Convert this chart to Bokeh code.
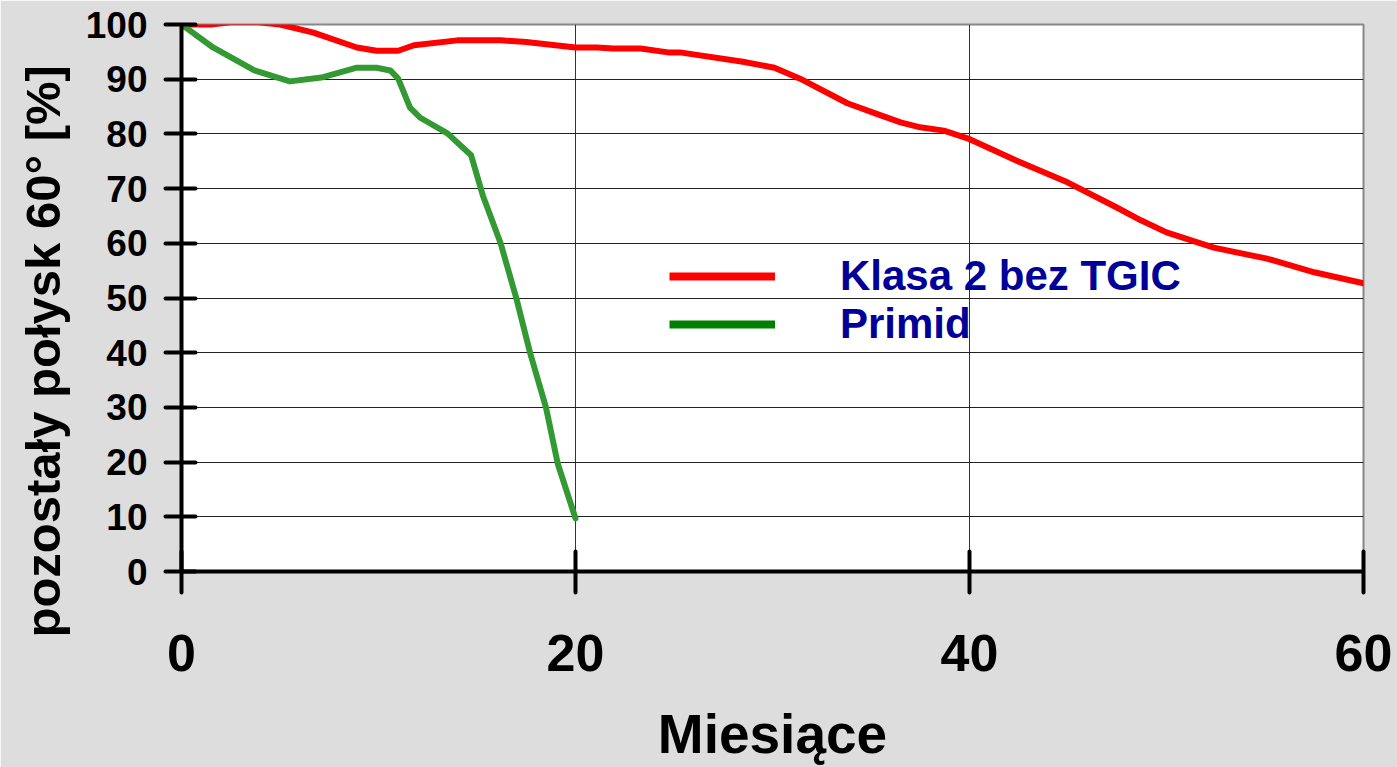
from bokeh.plotting import figure
from bokeh.models import Legend, LegendItem, FixedTicker, ColumnDataSource, Title
from bokeh.embed import file_html
from bokeh.resources import INLINE

# ---- data ----
klasa_months = [0, 1.5, 2.5, 3.9, 5.0, 6.7, 8.9, 9.9, 11.0, 11.8, 14.0, 16.2, 17.5, 20.0, 21.1, 21.9,
                23.3, 24.7, 25.3, 28.5, 30.1, 31.4, 33.8, 35.5, 36.5, 37.5, 38.7, 39.9, 42.4,
                45.0, 47.5, 48.7, 50.0, 52.4, 55.1, 57.5, 60.0]
klasa_gloss = [100, 100, 100.4, 100.4, 100, 98.5, 95.8, 95.2, 95.2, 96.2, 97.1, 97.1, 96.8, 95.8, 95.8, 95.6,
               95.6, 94.9, 94.9, 93.2, 92.1, 90.1, 85.6, 83.4, 82.1, 81.2, 80.6, 79.2, 75.1,
               71.1, 66.5, 64.2, 62.0, 59.2, 57.2, 54.7, 52.7]

primid_months = [0, 1.6, 3.7, 5.5, 7.1, 8.9, 9.9, 10.6, 11.0, 11.6, 12.1, 13.5, 14.7, 15.3,
                 16.2, 17.0, 17.7, 18.5, 19.1, 20.0]
primid_gloss = [100, 95.8, 91.6, 89.6, 90.3, 92.1, 92.1, 91.6, 90.1, 84.8, 83.0, 80.1, 76.1, 68.7,
                60.0, 49.9, 39.9, 30.0, 19.7, 9.7]

series_names = ["Klasa 2 bez TGIC", "Primid"]
x_ticks = [0, 20, 40, 60]
y_ticks = [0, 10, 20, 30, 40, 50, 60, 70, 80, 90, 100]
x_title = "Miesiące"
y_title = "pozostały połysk 60° [%]"

FONT = "Liberation Sans"
BG = "#dddddd"
NAN = float("nan")

p = figure(frame_width=1182, frame_height=547, output_backend="svg", toolbar_location=None,
           x_range=(0, 60), y_range=(0, 100),
           min_border_left=181, min_border_right=34, min_border_top=24, min_border_bottom=196)
p.border_fill_color = BG
p.background_fill_color = "white"
p.outline_line_color = "#888888"
p.outline_line_width = 2

# grids
p.xgrid.ticker = FixedTicker(ticks=x_ticks)
p.ygrid.ticker = FixedTicker(ticks=y_ticks)
p.xgrid.grid_line_color = "#333333"
p.ygrid.grid_line_color = "#222222"
p.xgrid.grid_line_width = 1
p.ygrid.grid_line_width = 1

# axes
for ax in (p.xaxis[0], p.yaxis[0]):
    ax.axis_line_width = 4
    ax.axis_line_color = "black"
    ax.major_tick_line_width = 4
    ax.major_tick_line_color = "black"
    ax.major_tick_line_cap = "round"
    ax.minor_tick_line_color = None
    ax.major_label_text_font = FONT
    ax.major_label_text_font_style = "bold"
    ax.major_label_text_color = "black"
    ax.axis_label_text_font = FONT
    ax.axis_label_text_font_style = "bold"
    ax.axis_label_text_color = "black"

p.xaxis.ticker = FixedTicker(ticks=x_ticks)
p.yaxis.ticker = FixedTicker(ticks=y_ticks)
p.xaxis.major_tick_in = 20
p.xaxis.major_tick_out = 21
p.yaxis.major_tick_in = 14
p.yaxis.major_tick_out = 16
p.xaxis.major_label_text_font_size = "52px"
p.yaxis.major_label_text_font_size = "37px"
p.xaxis.major_label_standoff = 42
p.yaxis.major_label_standoff = 18
p.xaxis.axis_label = x_title
p.xaxis.axis_label_text_font_size = "55px"
p.xaxis.axis_label_standoff = 29

# y axis title as a side title so it can be shifted downward like the reference
ytitle = Title(text=y_title, align="left", offset=-66, vertical_align="top",
               text_font=FONT, text_font_style="bold", text_font_size="49px",
               text_color="black")
try:
    ytitle.standoff = 22
except Exception:
    pass
p.add_layout(ytitle, "left")

# curves
src_k = ColumnDataSource(dict(x=klasa_months, y=klasa_gloss))
src_p = ColumnDataSource(dict(x=primid_months, y=primid_gloss))
p.line("x", "y", source=src_k, line_color="#ff0000", line_width=6, line_cap="round", line_join="round")
p.line("x", "y", source=src_p, line_color="#339933", line_width=6, line_cap="round", line_join="round")

# legend swatches (own colours as in the reference; no drawn data)
leg_k = p.line(x=[NAN], y=[NAN], line_color="#ff0000", line_width=8)
leg_p = p.line(x=[NAN], y=[NAN], line_color="#008000", line_width=8)
legend = Legend(items=[LegendItem(label=series_names[0], renderers=[leg_k]),
                       LegendItem(label=series_names[1], renderers=[leg_p])],
                location=(488, 223))
legend.background_fill_alpha = 0
legend.border_line_color = None
legend.padding = 0
legend.margin = 0
legend.spacing = -8
legend.glyph_width = 106
legend.glyph_height = 40
legend.label_height = 40
legend.label_standoff = 65
legend.label_text_font = FONT
legend.label_text_font_style = "bold"
legend.label_text_font_size = "42px"
legend.label_text_color = "#000099"
p.add_layout(legend)

open("out.html", "w").write(file_html(p, INLINE))
